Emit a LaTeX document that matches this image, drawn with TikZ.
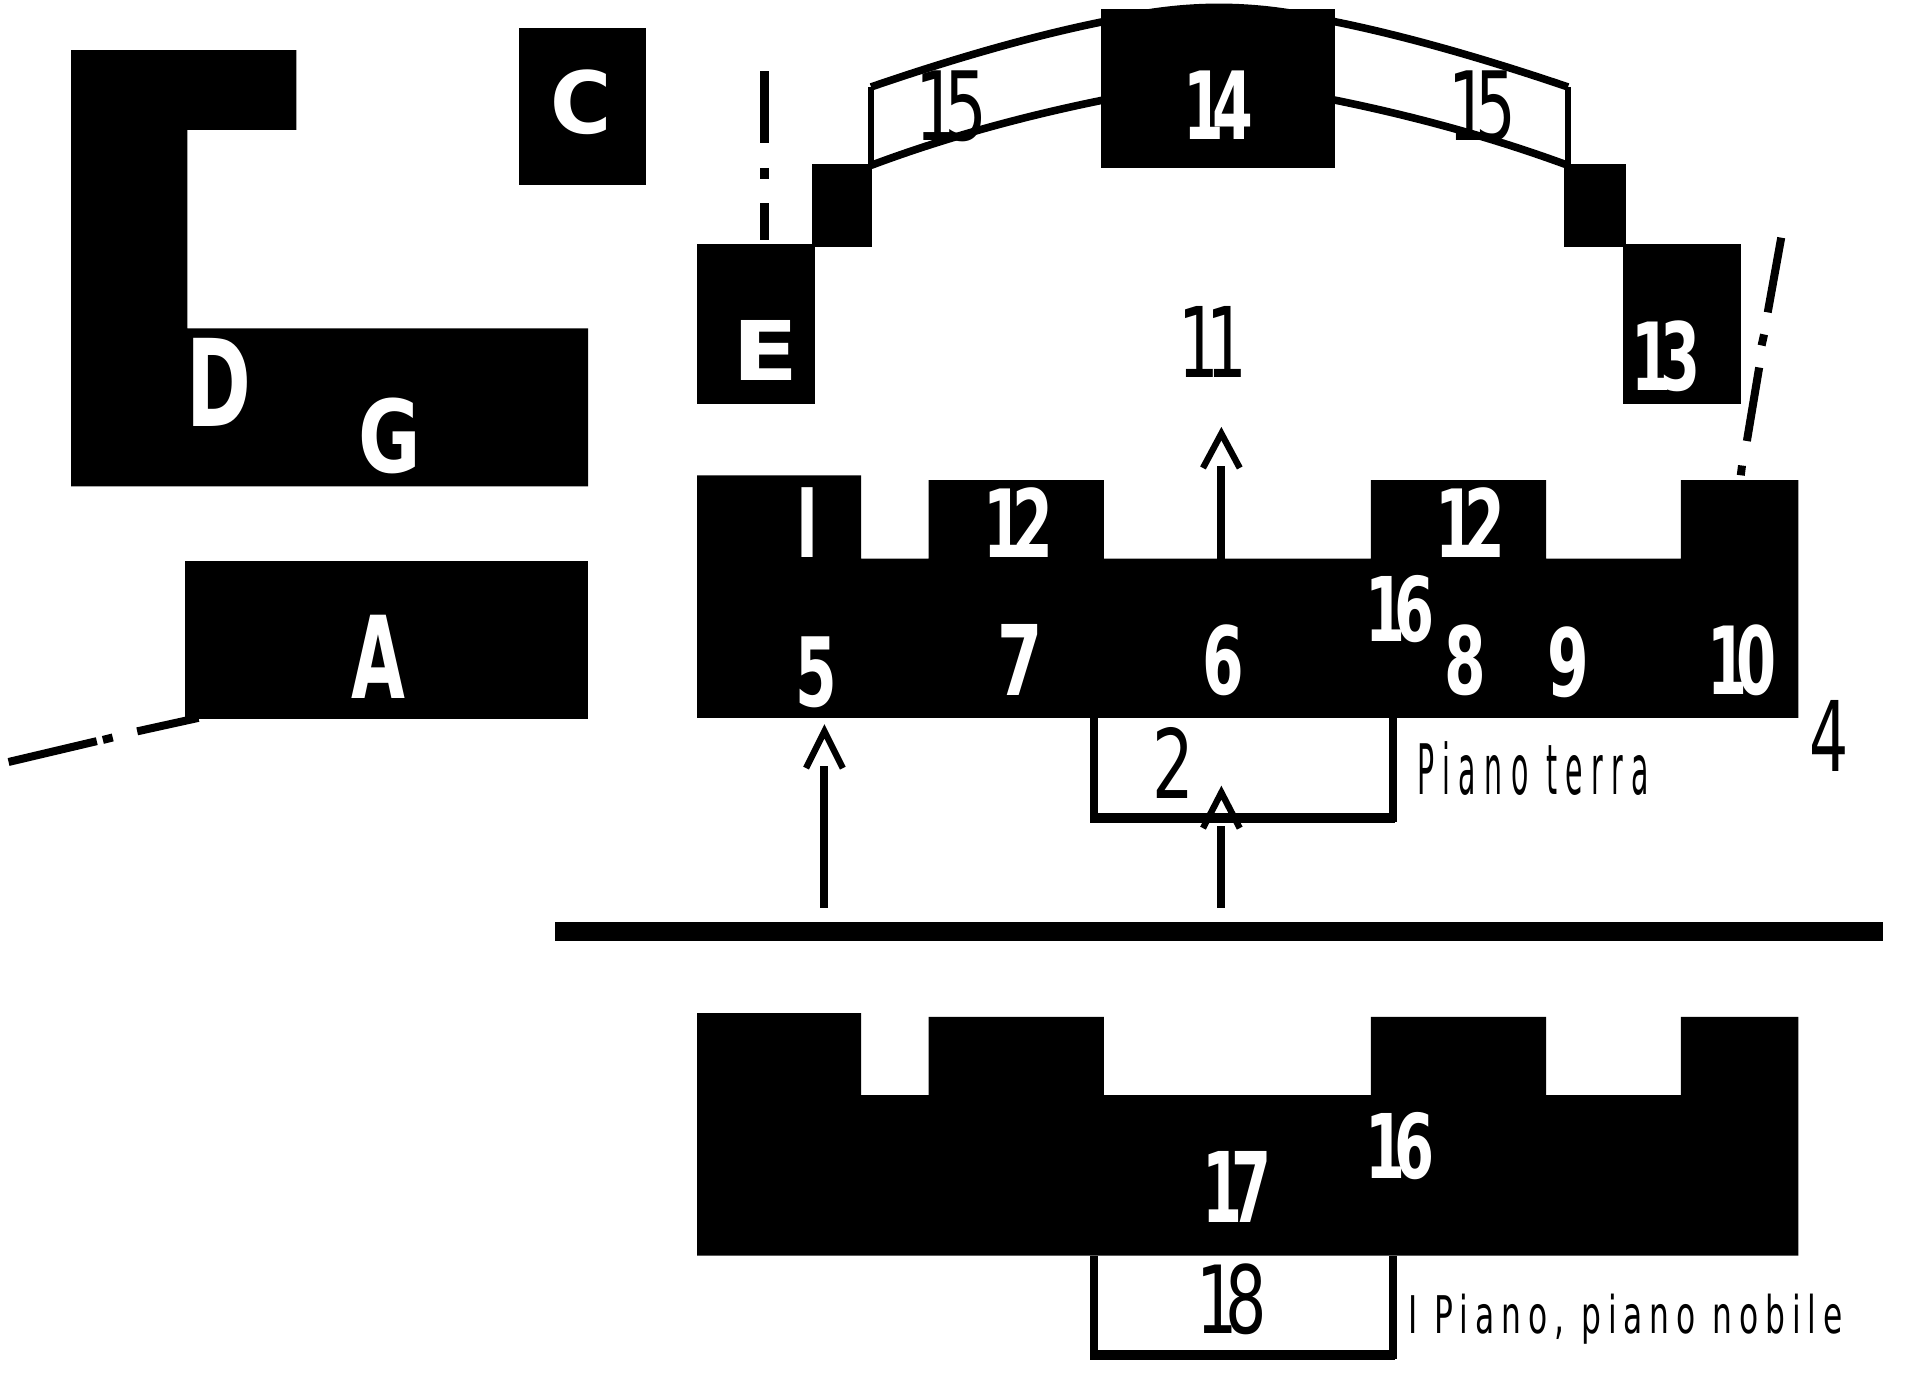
\documentclass[tikz,border=0pt]{standalone}
\usepackage{graphicx}
\usepackage{fontspec}
\setmainfont{DejaVu Sans}
\newfontfamily\spaced[LetterSpace=30]{DejaVu Sans}
\newfontfamily\spacedb[LetterSpace=22]{DejaVu Sans}
\newcommand{\lab}[7]{%
  \pgfmathsetmacro{\lw}{(#4-#2)*0.6125}%
  \pgfmathsetmacro{\lh}{(#5-#3)*0.6125}%
  \node[inner sep=0pt,text=#6,anchor=center] (#1) at ({(#2+#4)/2},{(#3+#5)/2}) {\resizebox*{\lw pt}{\lh pt}{#7}};%
}
\newcommand{\wlab}[6]{\lab{#1}{#2}{#3}{#4}{#5}{white}{\bfseries #6}}
\newcommand{\blab}[6]{\lab{#1}{#2}{#3}{#4}{#5}{black}{#6}}
\newcommand{\one}{1\kern-.2em }
\tikzset{
  solid block/.style={fill=black,draw=none},
  axis line/.style={line width=4pt,black},
  room line/.style={line width=4pt,black},
  arch line/.style={line width=3.8pt,black},
  shaft/.style={line width=4pt,black},
  chevron/.style={line width=3.2pt,black,miter limit=10},
}
\newcommand{\uparrowmark}[4]{% x, tip y, barb y, shaft bottom
  \coordinate (s#1a) at (#1,#3-2);
  \coordinate (s#1b) at (#1,#4);
  \draw[shaft] (s#1b) -- (s#1a);
  \draw[chevron] (#1-15,#3) -- (#1,#2) -- (#1+15,#3);
}
\begin{document}
\begin{tikzpicture}[x=0.6125pt,y=-0.6125pt]
\useasboundingbox (0,0) rectangle (1567.3,1125);
% left buildings
\fill[solid block] (58,41) -- (242,41) -- (242,106) -- (153,106) -- (153,268) -- (480,268) -- (480,397) -- (58,397) -- cycle;
\fill[solid block] (424,23) rectangle (527,151);
\fill[solid block] (151,458) rectangle (480,587);
% axes
\draw[axis line] (7,622) -- (79,605);
\draw[axis line] (84,604) -- (92,602);
\draw[axis line] (112,597) -- (162,586);
\draw[axis line,line width=4.6pt] (624,58) -- (624,117);
\draw[axis line,line width=4.6pt] (624,137) -- (624,146);
\draw[axis line,line width=4.6pt] (624,166) -- (624,196);
\draw[axis line] (1454,194) -- (1443,255);
\draw[axis line] (1440,273) -- (1438,282);
\draw[axis line] (1436,300) -- (1426,360);
\draw[axis line] (1422,380) -- (1421,388);
% arches
\draw[arch line] (711,71) .. controls (775,49) and (840,30) .. (899,18) .. controls (930,11) and (960,6) .. (995,6) .. controls (1030,6) and (1060,11) .. (1091,18) .. controls (1150,30) and (1215,49) .. (1280,71);
\draw[arch line] (711,135) .. controls (775,111) and (840,94) .. (899,82) .. controls (930,76) and (960,72) .. (995,72) .. controls (1030,72) and (1060,76) .. (1091,82) .. controls (1150,94) and (1215,111) .. (1280,135);
\draw[room line,line width=2.6pt] (711,71) -- (711,135);
\draw[room line,line width=2.6pt] (1280,71) -- (1280,135);
% upper court wings
\fill[solid block] (569,199) rectangle (665,330);
\fill[solid block] (663,134) rectangle (712,202);
\fill[solid block] (1277,134) rectangle (1327,202);
\fill[solid block] (1325,199) rectangle (1421,330);
\fill[solid block] (899,7) rectangle (1090,137);
% ground floor
\fill[solid block] (569,388) -- (703,388) -- (703,456) -- (758,456) -- (758,392) -- (901,392) -- (901,456) -- (1119,456) -- (1119,392) -- (1262,392) -- (1262,456) -- (1372,456) -- (1372,392) -- (1468,392) -- (1468,586) -- (569,586) -- cycle;
\draw[room line] (893,586) -- (893,668) -- (1137,668) -- (1137,586);
\fill[solid block] (890,664) rectangle (1139,672);
% divider
\fill[solid block] (453,753) rectangle (1537,768);
% first floor
\fill[solid block] (569,827) -- (703,827) -- (703,894) -- (758,894) -- (758,830) -- (901,830) -- (901,894) -- (1119,894) -- (1119,830) -- (1262,830) -- (1262,894) -- (1372,894) -- (1372,830) -- (1468,830) -- (1468,1025) -- (569,1025) -- cycle;
\draw[room line] (893,1025) -- (893,1106) -- (1137,1106) -- (1137,1025);
\fill[solid block] (890,1102) rectangle (1139,1110);
% arrows
\uparrowmark{997}{354}{382}{457}
\uparrowmark{673}{597}{627}{741}
\uparrowmark{997}{647}{676}{741}
% labels
\wlab{lC}{449}{57}{499}{110}{C}
\wlab{lD}{152}{276}{205}{348}{D}
\wlab{lG}{293}{325}{344}{387}{G}
\wlab{lA}{287}{502}{331}{570}{A}
\wlab{lE}{598}{262}{652}{311}{E}
\wlab{lI}{650}{398}{668}{455}{I}
\wlab{ltwelveA}{803}{398}{860}{455}{\one 2}
\wlab{ltwelveB}{1172}{398}{1229}{455}{\one 2}
\wlab{lfourteen}{966}{58}{1023}{114}{\one 4}
\blab{lfifteenA}{747}{58}{806}{116}{\one 5}
\blab{lfifteenB}{1182}{58}{1238}{116}{\one 5}
\blab{leleven}{962}{250}{1018}{308}{\one 1}
\wlab{lthirteen}{1332}{262}{1388}{320}{\one 3}
\wlab{lsixteenA}{1115}{470}{1171}{525}{\one 6}
\wlab{lfive}{649}{520}{683}{578}{5}
\wlab{lseven}{814}{510}{851}{568}{7}
\wlab{lsix}{982}{510}{1016}{568}{6}
\wlab{leight}{1179}{510}{1213}{568}{8}
\wlab{lnine}{1263}{512}{1297}{570}{9}
\wlab{lten}{1394}{510}{1450}{568}{\one 0}
\blab{lfour}{1477}{572}{1509}{630}{4}
\blab{ltwo}{941}{594}{975}{652}{2}
\blab{lterra}{1157}{605}{1346}{649}{\spaced Piano terra}
\blab{lnobile}{1150}{1056}{1504}{1097}{\spacedb I Piano, piano nobile}
\wlab{lsixteenB}{1115}{908}{1171}{963}{\one 6}
\wlab{lseventeen}{982}{940}{1038}{998}{\one 7}
\blab{leighteen}{977}{1032}{1034}{1090}{\one 8}
\end{tikzpicture}
\end{document}
